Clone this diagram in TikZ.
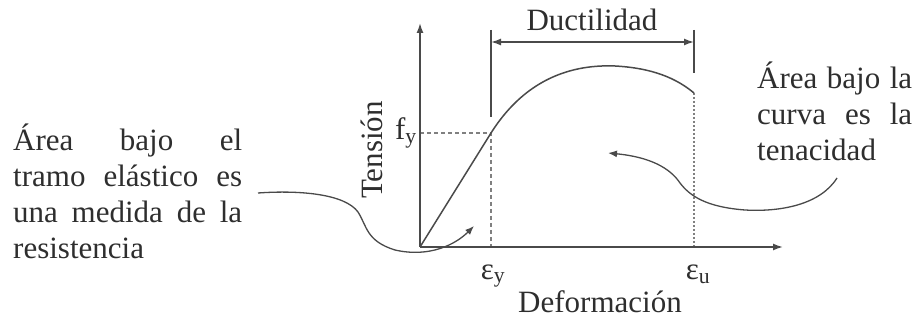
\documentclass[tikz,border=0pt]{standalone}
\usepackage{fontspec}
\setmainfont{Liberation Serif}
\usetikzlibrary{arrows.meta}
\definecolor{ink}{HTML}{2E2E2E}
\definecolor{lin}{HTML}{4A4A4A}
\newcommand{\jline}[2]{\makebox[#1][s]{#2}}
\begin{document}
\begin{tikzpicture}[x=1pt,y=-1pt,
  axis/.style={draw=lin, line width=1.6pt, -{Latex[length=10pt,width=7pt]}},
  curve/.style={draw=lin, line width=1.5pt},
  guide/.style={draw=lin!70, line width=1.2pt, dash pattern=on 4pt off 3pt},
  fineguide/.style={draw=lin!70, line width=1.2pt, dash pattern=on 2pt off 2pt},
  dimline/.style={draw=lin, line width=1.5pt},
  pointer/.style={draw=lin, line width=1.3pt, -{Latex[length=9pt,width=7pt]}},
  lbl/.style={text=ink, inner sep=0pt, font=\fontsize{31}{36}\selectfont},
  para/.style={lbl, align=left, anchor=north west}
]
\useasboundingbox (0,0) rectangle (918,320);

% key points
\coordinate (O) at (420,247);
\coordinate (Ytop) at (420,23);
\coordinate (Xend) at (783,247);
\coordinate (Yld) at (491,133);
\coordinate (Ult) at (694,93);
\coordinate (fyax) at (420,133);
\coordinate (eyax) at (491,247);
\coordinate (euax) at (694,247);

% guides
\draw[guide] (fyax) -- (Yld) -- (eyax);
\draw[fineguide] (Ult) -- (euax);

% axes
\draw[axis] (O) -- (Ytop);
\draw[axis] (O) -- (Xend);

% stress-strain curve
\draw[curve] (O) -- (Yld) .. controls (522,84) and (565,64) .. (615,66)
  .. controls (652,68) and (676,78) .. (Ult);

% ductility dimension
\coordinate (d1t) at (491,30);
\coordinate (d1b) at (491,117);
\coordinate (d2t) at (694,30);
\coordinate (d2b) at (694,73);
\coordinate (a1) at (491,42);
\coordinate (a2) at (694,42);
\draw[dimline] (d1t) -- (d1b);
\draw[dimline] (d2t) -- (d2b);
\draw[dimline, {Latex[length=10pt,width=7pt]}-{Latex[length=10pt,width=7pt]}] (a1) -- (a2);
\node[lbl] (duct) at (592,20) {Ductilidad};

% axis labels
\node[lbl, rotate=90] (tens) at (372,150) {Tensión};
\node[lbl, anchor=east] (fy) at (417,133) {f\textsubscript{y}};
\node[lbl] (ey) at (493,276) {ε\textsubscript{y}};
\node[lbl] (eu) at (698,274) {ε\textsubscript{u}};
\node[lbl] (defo) at (600,302) {Deformación};

% annotations
\node[para] (left) at (13,124)
  {\jline{229pt}{Área bajo el}\\\jline{229pt}{tramo elástico es}\\
   \jline{229pt}{una medida de la}\\resistencia};
\node[para] (right) at (757,62)
  {\jline{155pt}{Área bajo la}\\\jline{155pt}{curva es la}\\tenacidad};

\coordinate (lstart) at (258,193);
\coordinate (ltip) at (474,226);
\draw[pointer] (lstart) .. controls (300,190) and (345,194) .. (358,212)
  .. controls (367,226) and (366,241) .. (395,250)
  .. controls (430,258) and (456,244) .. (ltip);

\coordinate (rstart) at (837,178);
\coordinate (rtip) at (608,153);
\draw[pointer] (rstart) .. controls (820,205) and (780,212) .. (745,210)
  .. controls (706,207) and (690,196) .. (680,183)
  .. controls (670,168) and (650,157) .. (rtip);
\end{tikzpicture}
\end{document}
